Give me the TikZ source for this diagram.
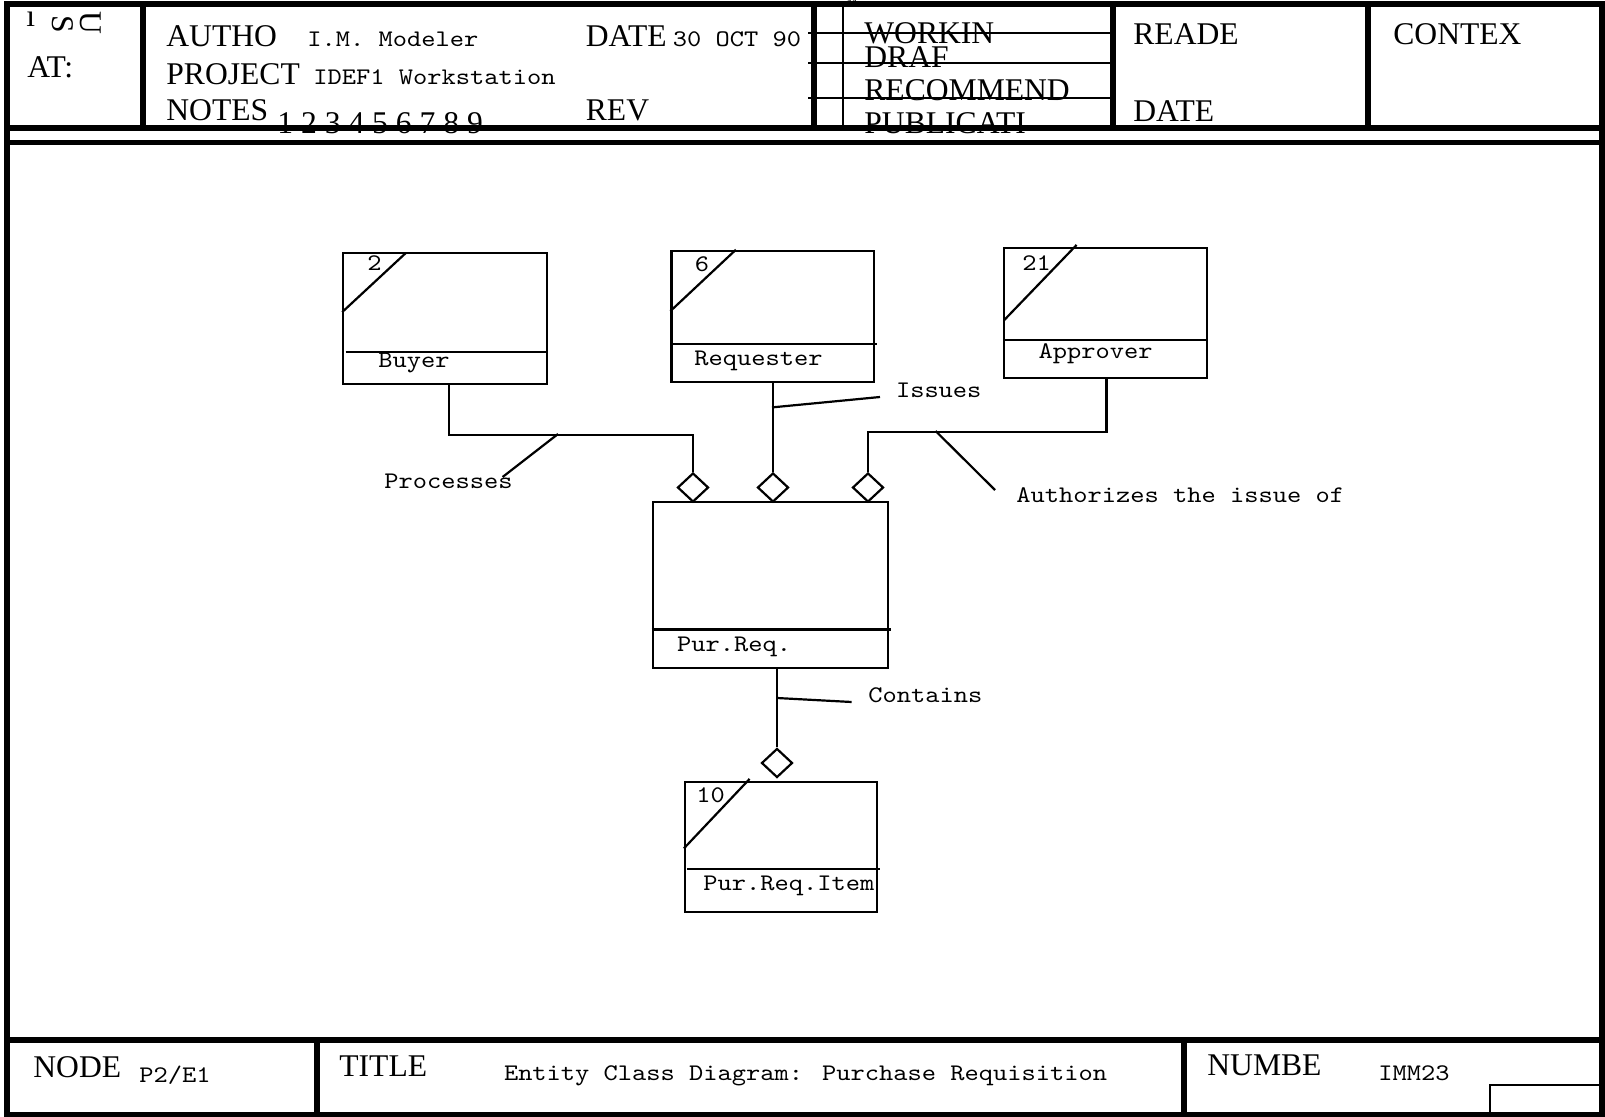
\documentclass[tikz,border=0pt]{standalone}
\usepackage{fontspec}
\setmainfont{Liberation Serif}
\newfontfamily\courfont{lmmono10-regular.otf}[FakeStretch=1.14]
\usetikzlibrary{shapes.geometric, calc}

\tikzset{
  frame/.style={line width=3pt},
  rule/.style={line width=1pt},
  link/.style={line width=1.1pt},
  entity/.style={draw, rectangle, line width=1.1pt, inner sep=0pt},
  manyend/.style={draw, diamond, fill=white, line width=1.1pt, minimum width=15.5pt, minimum height=14.5pt, inner sep=0pt},
  hdr/.style={anchor=base west, inner sep=0pt, font=\fontsize{15.8}{18}\selectfont},
  txt/.style={anchor=base west, inner sep=0pt, font=\courfont\fontsize{11.9}{14}\selectfont},
}

\begin{document}
\begin{tikzpicture}[x=0.5pt, y=-0.5pt]
\useasboundingbox (0,0) rectangle (1605,1117);
% Header texts
\node[hdr] (usedi) at (26,27) {ı};
\node[hdr, anchor=center, rotate=-90] (useds) at (62.5,24) {S};
\node[hdr, anchor=center, rotate=-90] (usedu) at (91,23) {U};
\node[hdr] (usedat) at (27,78) {AT:};
\node[hdr] (author) at (166,47) {AUTHO};
\node[txt] (authorval) at (307,47) {I.M. Modeler};
\node[hdr] (project) at (166,85) {PROJECT};
\node[txt] (projectval) at (313,85) {IDEF1 Workstation};
\node[hdr] (notes) at (166,121) {NOTES};
\node[hdr] (notesval) at (277,134) {1 2 3 4 5 6 7 8 9};
\node[hdr] (date) at (585.5,47) {DATE};
\node[txt] (dateval) at (672.5,47) {30 OCT 90};
\node[hdr] (rev) at (585.5,121) {REV};
\node[inner sep=0pt, font=\fontsize{6}{6}\selectfont] (mark) at (852,2) {M};
\node[hdr] (working) at (864,44) {WORKIN};
\node[hdr] (draft) at (864,68) {DRAF};
\node[hdr] (recommend) at (864,101) {RECOMMEND};
\node[hdr] (publication) at (864,134) {PUBLICATI};
\node[hdr] (reader) at (1133,45) {READE};
\node[hdr] (readerdate) at (1133,122) {DATE};
\node[hdr] (context) at (1393,45) {CONTEX};
% Frame and header rules
\draw[frame] (7,4.5) rectangle (1602,1115);
\draw[frame] (7,128.5) -- (1602,128.5);
\draw[line width=2.5pt] (7,143) -- (1602,143);
\foreach \x in {143,814,1113,1368}
  \draw[frame] (\x,4.5) -- (\x,128.5);
\draw[rule] (843,4.5) -- (843,128.5);
\foreach \y in {33.3,62.7,98.3}
  \draw[rule] (808,\y) -- (1113,\y);
% Footer
\draw[frame] (7,1040) -- (1602,1040);
\draw[frame] (317,1040) -- (317,1115);
\draw[frame] (1184,1040) -- (1184,1115);
\draw[rule] (1490,1115) |- (1602,1085);
\node[hdr] (node) at (33,1077) {NODE};
\node[txt] (nodeval) at (139,1082) {P2/E1};
\node[hdr] (title) at (339,1076) {TITLE};
\node[txt] (titleval) at (503.6,1080) {Entity Class Diagram: Purchase Requisition};
\node[hdr] (number) at (1207,1075) {NUMBE};
\node[txt] (numberval) at (1378,1080) {IMM23};
% Entities
\node[entity, minimum width=101.7pt, minimum height=65.35pt] (buyer) at (445,318.65) {};
\draw[link] ($(buyer.south west)+(3.4,-33)$) -- ($(buyer.south east)+(0,-33)$);
\draw[link] ($(buyer.south west)+(0,-73)$) -- ($(buyer.north west)+(63.4,1)$);
\node[txt, anchor=center] (buyerno) at (374.5,263) {2};
\node[txt] (buyerlbl) at (378,368) {Buyer};

\node[entity, minimum width=101.25pt, minimum height=65.5pt] (requester) at (772.75,316.3) {};
\draw[link] ($(requester.south west)+(0,-38.8)$) -- ($(requester.south east)+(2,-38.8)$);
\draw[link] ($(requester.south west)+(0,-71.8)$) -- ($(requester.north west)+(65.5,0)$);
\node[txt, anchor=center] (requesterno) at (702,264.5) {6};
\node[txt] (requesterlbl) at (694,365) {Requester};

\node[entity, minimum width=101.35pt, minimum height=65pt] (approver) at (1105.35,313.3) {};
\draw[link] ($(approver.south west)+(0,-39)$) -- ($(approver.south east)+(0,-39)$);
\draw[link] ($(approver.south west)+(1,-59)$) -- ($(approver.north west)+(73.7,-2.3)$);
\node[txt, anchor=center] (approverno) at (1036.5,263.5) {21};
\node[txt] (approverlbl) at (1038.3,358) {Approver};

\node[entity, minimum width=117.5pt, minimum height=83pt] (purreq) at (770.2,584.7) {};
\draw[link] ($(purreq.south west)+(0,-39.4)$) -- ($(purreq.south east)+(2.3,-39.4)$);
\node[txt] (purreqlbl) at (676.7,651.7) {Pur.Req.};

\node[entity, minimum width=95.85pt, minimum height=65pt] (item) at (780.85,846.7) {};
\draw[link] ($(item.south west)+(3,-44)$) -- ($(item.south east)+(2.3,-44)$);
\draw[link] ($(item.south west)+(0,-64.4)$) -- ($(item.north west)+(65.7,-1.7)$);
\node[txt, anchor=center] (itemno) at (710.5,795.5) {10};
\node[txt] (itemlbl) at (703,890) {Pur.Req.Item};
% Relationships
\node[manyend] (d1) at (693,487.5) {};
\node[manyend] (d2) at (773,487.5) {};
\node[manyend] (d3) at (868,487.5) {};
\node[manyend] (d4) at (777,763) {};
\draw[link] ([xshift=2pt]buyer.south) -- ++(0,50) -| (d1.north);
\draw[link] (requester.south -| d2.north) -- (d2.north);
\draw[link] ([xshift=0.6pt]approver.south) -- ++(0,52.7) -| (d3.north);
\draw[link] (purreq.south -| d4.north) -- (d4.north);
% Relationship labels
\node[txt] (processes) at (384,488) {Processes};
\node[txt] (issues) at (895.6,398) {Issues};
\node[txt] (authorizes) at (1016,502) {Authorizes the issue of};
\node[txt] (contains) at (868,702) {Contains};
\coordinate (procat) at (558,434);
\coordinate (issuat) at (772,407.4);
\coordinate (authat) at (935.6,431);
\coordinate (contat) at (777,698);
\draw[link] (procat) -- (502.6,477);
\draw[link] (issuat) -- (880,397);
\draw[link] (authat) -- (995,490);
\draw[link] (contat) -- (851.6,702);
\end{tikzpicture}
\end{document}
